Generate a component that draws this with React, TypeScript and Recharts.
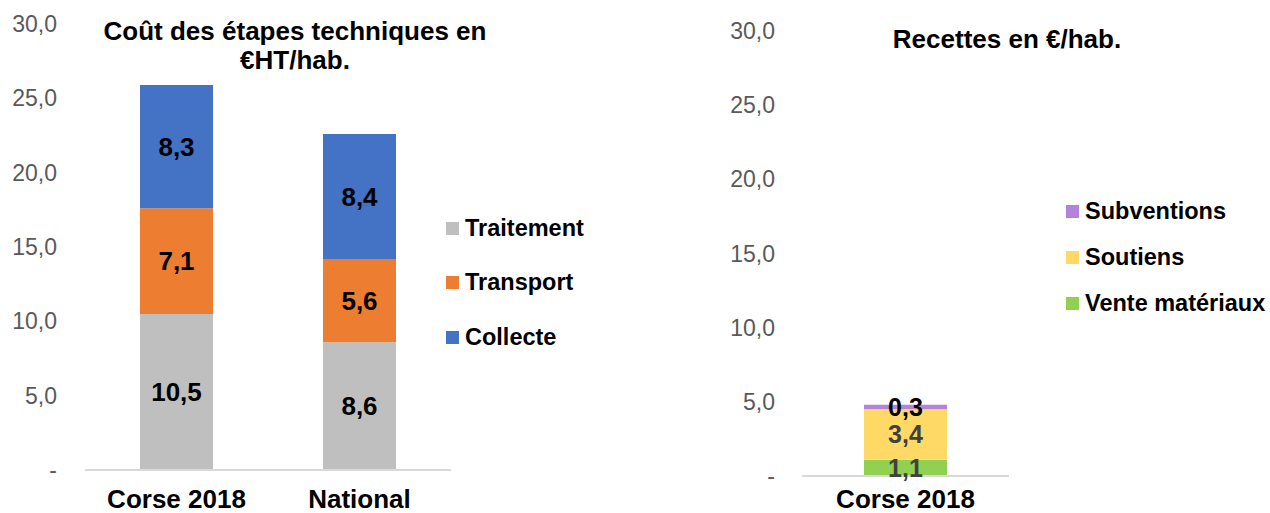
import { Bar, BarChart, LabelList, Legend, XAxis, YAxis } from "recharts"

const costCategories = ["Corse 2018", "National"]
const traitement = [10.5, 8.6]
const transport = [7.1, 5.6]
const collecte = [8.3, 8.4]

const revenueCategories = ["Corse 2018"]
const venteMateriaux = [1.1]
const soutiens = [3.4]
const subventions = [0.3]

const yTicks = [0, 5, 10, 15, 20, 25, 30]

const FONT = "'Liberation Sans', Arial, sans-serif"

const costData = costCategories.map((name, i) => ({
  name,
  traitement: traitement[i],
  transport: transport[i],
  collecte: collecte[i],
}))

const revenueData = revenueCategories.map((name, i) => ({
  name,
  vente: venteMateriaux[i],
  soutiens: soutiens[i],
  subventions: subventions[i],
}))

const fmt = (v: any) => (Number(v) === 0 ? "-" : Number(v).toFixed(1).replace(".", ","))

function CategoryTick(props: any) {
  const { x, y, payload } = props
  return (
    <text
      x={x}
      y={y + 29}
      textAnchor="middle"
      dominantBaseline="central"
      fontFamily={FONT}
      fontWeight="bold"
      fontSize={26}
      fill="#000"
    >
      {payload.value}
    </text>
  )
}

function makeLegend(items: { label: string; color: string }[], rowHeight: number) {
  return () => (
    <div style={{ fontFamily: FONT, fontWeight: "bold", fontSize: 23.5, color: "#000" }}>
      {items.map((it) => (
        <div
          key={it.label}
          style={{ display: "flex", alignItems: "center", height: rowHeight, whiteSpace: "nowrap" }}
        >
          <span style={{ width: 13, height: 13, background: it.color, marginRight: 6, display: "inline-block" }} />
          {it.label}
        </div>
      ))}
    </div>
  )
}

const costLegend = makeLegend(
  [
    { label: "Traitement", color: "#BFBFBF" },
    { label: "Transport", color: "#ED7D31" },
    { label: "Collecte", color: "#4472C4" },
  ],
  54.5
)

const revenueLegend = makeLegend(
  [
    { label: "Subventions", color: "#B482DA" },
    { label: "Soutiens", color: "#FFD966" },
    { label: "Vente matériaux", color: "#92D050" },
  ],
  46
)

const tickStyle = { fontFamily: FONT, fontSize: 23, fill: "#595959" }
const labelStyle = { fontFamily: FONT, fontWeight: "bold", fontSize: 26 }

export default function App() {
  return (
    <div style={{ position: "absolute", left: 0, top: 0, width: 1270, height: 513, background: "#fff" }}>
      <div
        style={{
          position: "absolute",
          left: 95,
          width: 400,
          top: 17,
          textAlign: "center",
          fontFamily: FONT,
          fontWeight: "bold",
          fontSize: 26,
          lineHeight: "29px",
          zIndex: 2,
        }}
      >
        Coût des étapes techniques en
        <br />
        €HT/hab.
      </div>
      <div
        style={{
          position: "absolute",
          left: 857,
          width: 300,
          top: 24,
          textAlign: "center",
          fontFamily: FONT,
          fontWeight: "bold",
          fontSize: 26,
          lineHeight: "30px",
          zIndex: 2,
        }}
      >
        Recettes en €/hab.
      </div>

      <div style={{ position: "absolute", left: 0, top: 0 }}>
        <BarChart
          width={640}
          height={513}
          data={costData}
          margin={{ top: 24, right: 189, bottom: 0, left: 0 }}
          barCategoryGap={0}
        >
          <XAxis
            dataKey="name"
            height={43}
            tickLine={false}
            tickSize={0}
            tickMargin={0}
            axisLine={{ stroke: "#D9D9D9", strokeWidth: 2 }}
            tick={<CategoryTick />}
          />
          <YAxis
            width={85}
            domain={[0, 30]}
            ticks={yTicks}
            axisLine={false}
            tickLine={false}
            tickSize={0}
            tickMargin={28}
            tickFormatter={fmt}
            tick={tickStyle}
          />
          <Legend
            content={costLegend}
            layout="vertical"
            align="center"
            verticalAlign="middle"
            wrapperStyle={{ left: 446, top: 201, width: "auto" }}
          />
          <Bar dataKey="traitement" stackId="a" fill="#BFBFBF" barSize={73} isAnimationActive={false}>
            <LabelList dataKey="traitement" position="center" formatter={fmt} fill="#000" style={labelStyle} />
          </Bar>
          <Bar dataKey="transport" stackId="a" fill="#ED7D31" barSize={73} isAnimationActive={false}>
            <LabelList dataKey="transport" position="center" formatter={fmt} fill="#000" style={labelStyle} />
          </Bar>
          <Bar dataKey="collecte" stackId="a" fill="#4472C4" barSize={73} isAnimationActive={false}>
            <LabelList dataKey="collecte" position="center" formatter={fmt} fill="#000" style={labelStyle} />
          </Bar>
        </BarChart>
      </div>

      <div style={{ position: "absolute", left: 640, top: 0 }}>
        <BarChart
          width={630}
          height={513}
          data={revenueData}
          margin={{ top: 31, right: 261, bottom: 0, left: 0 }}
          barCategoryGap={0}
        >
          <XAxis
            dataKey="name"
            height={37}
            tickLine={false}
            tickSize={0}
            tickMargin={0}
            axisLine={{ stroke: "#D9D9D9", strokeWidth: 2 }}
            tick={(p: any) => <CategoryTick {...p} y={p.y - 6} />}
          />
          <YAxis
            width={162}
            domain={[0, 30]}
            ticks={yTicks}
            axisLine={false}
            tickLine={false}
            tickSize={0}
            tickMargin={27}
            tickFormatter={fmt}
            tick={tickStyle}
          />
          <Legend
            content={revenueLegend}
            layout="vertical"
            align="center"
            verticalAlign="middle"
            wrapperStyle={{ left: 426, top: 188, width: "auto" }}
          />
          <Bar dataKey="vente" stackId="r" fill="#92D050" barSize={83} isAnimationActive={false}>
            <LabelList dataKey="vente" position="center" formatter={fmt} fill="#404040" style={{ ...labelStyle, fontSize: 25 }} />
          </Bar>
          <Bar dataKey="soutiens" stackId="r" fill="#FFD966" barSize={83} isAnimationActive={false}>
            <LabelList dataKey="soutiens" position="center" formatter={fmt} fill="#404040" style={{ ...labelStyle, fontSize: 25 }} />
          </Bar>
          <Bar dataKey="subventions" stackId="r" fill="#B482DA" barSize={83} isAnimationActive={false}>
            <LabelList dataKey="subventions" position="center" formatter={fmt} fill="#000" style={{ ...labelStyle, fontSize: 25 }} />
          </Bar>
        </BarChart>
      </div>
    </div>
  )
}
